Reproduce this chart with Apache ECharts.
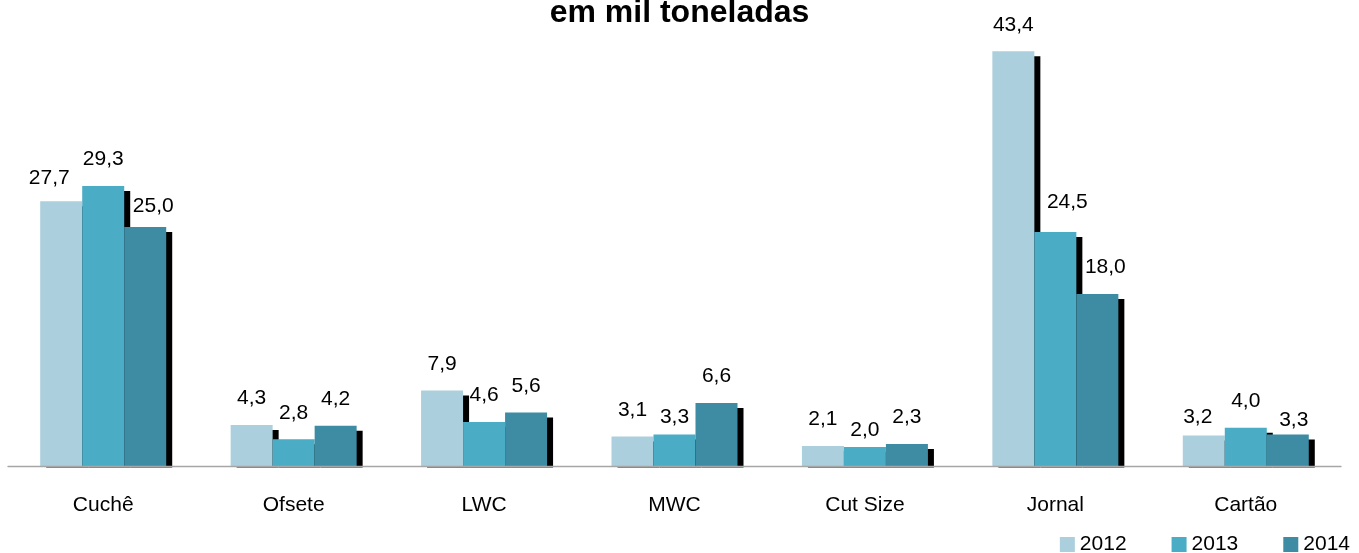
<!DOCTYPE html>
<html>
<head>
<meta charset="utf-8">
<script src="https://cdn.jsdelivr.net/npm/echarts@6/dist/echarts.min.js"></script>
<style>
html,body{margin:0;padding:0;background:#fff;}
#chart{width:1359px;height:553px;}
</style>
</head>
<body>
<div id="chart"></div>
<script>
const categories = ['Cuchê', 'Ofsete', 'LWC', 'MWC', 'Cut Size', 'Jornal', 'Cartão'];
const seriesNames = ['2012', '2013', '2014'];
const values2012 = [27.7, 4.3, 7.9, 3.1, 2.1, 43.4, 3.2];
const values2013 = [29.3, 2.8, 4.6, 3.3, 2.0, 24.5, 4.0];
const values2014 = [25.0, 4.2, 5.6, 6.6, 2.3, 18.0, 3.3];
const titleText = 'em mil toneladas';

// style: small label nudges [dx, dy] as placed in the original
const labelNudge = {
  '0-0': [-12, 3], '2-0': [8, 6],
  '1-3': [0, 9], '1-4': [0, 10],
  '1-5': [12, -3], '2-5': [8, 0],
  '0-6': [-6, 8], '2-6': [6, 12]
};

const colors = ['#abcfdc', '#4aacc5', '#3d8ca4'];
const font = "'Liberation Sans', Arial, sans-serif";
const allValues = [values2012, values2013, values2014];

const chart = echarts.init(document.getElementById('chart'), null, {renderer: 'canvas'});

const series = allValues.map((vals, si) => ({
  name: seriesNames[si],
  type: 'bar',
  barWidth: 42,
  barGap: '0%',
  itemStyle: {
    color: colors[si],
    shadowColor: '#000',
    shadowOffsetX: 6,
    shadowOffsetY: 5,
    shadowBlur: 0
  },
  label: {
    show: true,
    position: 'top',
    distance: 16,
    color: '#000',
    fontSize: 21,
    fontFamily: font,
    formatter: p => p.value.toFixed(1).replace('.', ',')
  },
  emphasis: {disabled: true},
  data: vals.map((v, i) => {
    const n = labelNudge[si + '-' + i];
    return n ? {value: v, label: {offset: n}} : {value: v};
  })
}));

chart.setOption({
  animation: false,
  backgroundColor: '#fff',
  color: colors,
  title: {
    text: titleText,
    left: 'center',
    top: -8,
    textStyle: {fontFamily: font, fontSize: 32, fontWeight: 'bold', color: '#000'}
  },
  legend: {
    data: seriesNames,
    right: 4,
    top: 529,
    icon: 'rect',
    itemWidth: 15,
    itemHeight: 15,
    itemGap: 45,
    textStyle: {fontFamily: font, fontSize: 21, color: '#000'}
  },
  grid: {left: 8, right: 18, top: 36, bottom: 87, containLabel: false},
  xAxis: {
    type: 'category',
    data: categories,
    z: 10,
    axisLine: {show: true, lineStyle: {color: '#a6a6a6', width: 1.3}},
    axisTick: {show: false},
    axisLabel: {fontFamily: font, fontSize: 21, color: '#000', margin: 29}
  },
  yAxis: {
    type: 'value',
    min: 0,
    max: 45,
    show: false,
    splitLine: {show: false}
  },
  graphic: [{
    type: 'rect',
    z: 5,
    shape: {x: 0, y: 467.5, width: 1359, height: 8},
    style: {fill: '#fff'},
    silent: true
  }],
  series: series
});
</script>
</body>
</html>
